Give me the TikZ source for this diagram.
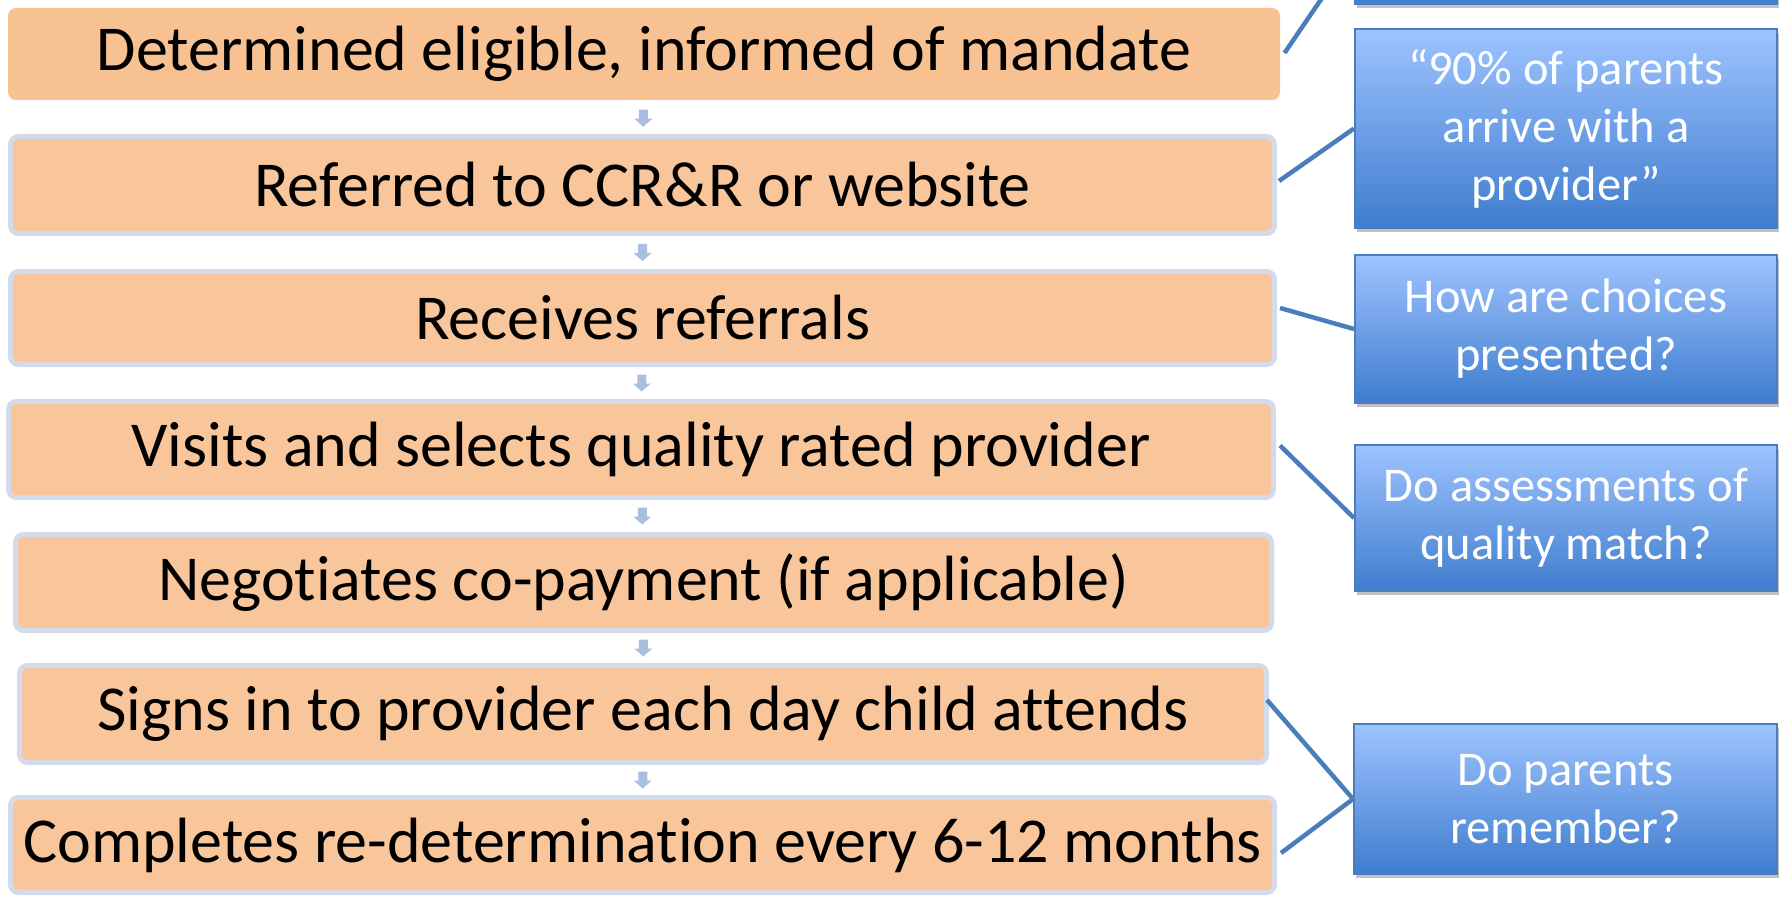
\documentclass[tikz,border=0pt]{standalone}
\usepackage{fontspec}
\setmainfont{Carlito}[RawFeature={-liga;-clig;-calt;-dlig}]
\usetikzlibrary{calc,shadows}

\definecolor{stepfill}{HTML}{F9C59A}
\definecolor{stepfirst}{HTML}{F8C191}
\definecolor{stepedge}{HTML}{D3DBEA}
\definecolor{qtop}{HTML}{9EC3FF}
\definecolor{qbot}{HTML}{3F7DCE}
\definecolor{qedge}{HTML}{4A7EBB}
\definecolor{linkcol}{HTML}{4A7EBB}
\definecolor{gapcol}{HTML}{AABFE0}

\tikzset{
  stepbox/.style={fill=stepfill, draw=stepedge, line width=5pt,
    rounded corners=8pt, inner sep=0pt, align=center,
    font=\fontsize{64}{76}\selectfont},
  firstbox/.style={stepbox, draw=none, fill=stepfirst},
  qbox/.style={draw=qedge, line width=2pt, top color=qtop, bottom color=qbot,
    text=white, inner sep=0pt, align=center,
    font=\fontsize{48.5}{58}\selectfont,
    drop shadow={shadow xshift=2pt, shadow yshift=-4pt, opacity=0.35, fill=black!70}},
  link/.style={draw=linkcol, line width=4.5pt},
  gaparrow/.style={fill=gapcol, draw=none}
}

\begin{document}
\begin{tikzpicture}[x=1pt,y=-1pt]
\useasboundingbox (0,0) rectangle (1787,901);
\clip (0,0) rectangle (1787,901);

% process steps (left column)
\node[firstbox, minimum width=1272pt, minimum height=92pt] (b1) at (644,54) {Determined eligible, informed of mandate};
\node[stepbox, minimum width=1264pt, minimum height=97pt] (b2) at (642.5,185) {Referred to CCR\&R or website};
\node[stepbox, minimum width=1264pt, minimum height=93pt] (b3) at (642.5,318) {Receives referrals};
\node[stepbox, minimum width=1265pt, minimum height=96pt] (b4) at (641,449.5) {Visits and selects quality rated provider};
\node[stepbox, minimum width=1256pt, minimum height=96pt] (b5) at (643.5,582.5) {Negotiates co-payment (if applicable)};
\node[stepbox, minimum width=1247pt, minimum height=97pt] (b6) at (643,714) {Signs in to provider each day child attends};
\node[stepbox, minimum width=1264pt, minimum height=95pt] (b7) at (642.5,845) {Completes re-determination every 6-12 months};

% small down arrows between consecutive steps
\foreach \a/\b in {b1/b2,b2/b3,b3/b4,b4/b5,b5/b6,b6/b7}
  \fill[gaparrow] ($(\a.south)!0.5!(\b.north)$) ++(-4.5,-8.5) -- ++(9,0) -- ++(0,9)
    -- ++(4.5,0) -- ++(-9,8) -- ++(-9,-8) -- ++(4.5,0) -- cycle;

% questions (right column)
\node[qbox, minimum width=422pt, minimum height=106pt] (q0) at (1566,-49) {};
\node[qbox, minimum width=422pt, minimum height=199pt] (q1) at (1566,128.5) {“90\% of parents\\arrive with a\\provider”};
\node[qbox, minimum width=422pt, minimum height=148pt] (q2) at (1566,329) {How are choices\\presented?};
\node[qbox, minimum width=422pt, minimum height=146pt] (q3) at (1566,518) {Do assessments of\\quality match?};
\node[qbox, minimum width=423pt, minimum height=150pt] (q4) at (1565.5,799) {Do parents\\remember?};

% links from steps to questions
\draw[link] ($(b1.east)+(2,-1)$) -- (q0.west);
\draw[link] ($(b2.east)+(2,-4)$) -- (q1.west);
\draw[link] ($(b3.east)+(3,-10)$) -- (q2.west);
\draw[link] ($(b4.east)+(4,-4)$) -- (q3.west);
\draw[link] ($(b6.east)+(-2,-14)$) -- (q4.west);
\draw[link] ($(b7.east)+(4,8)$) -- (q4.west);
\end{tikzpicture}
\end{document}
